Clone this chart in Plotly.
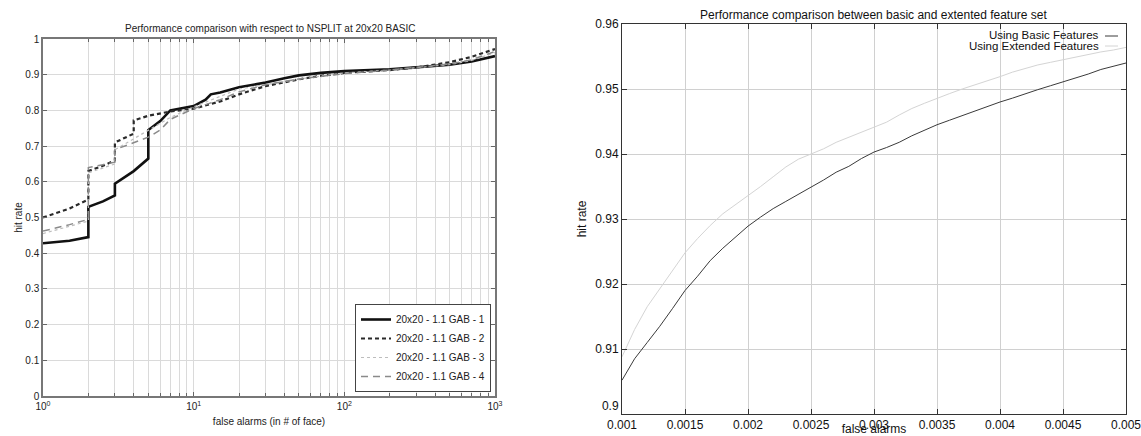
import plotly.graph_objects as go

# ---------------- Left chart data (false alarms in # of faces, log axis) ----------------
left_names = ["20x20 - 1.1 GAB - 1", "20x20 - 1.1 GAB - 2", "20x20 - 1.1 GAB - 3", "20x20 - 1.1 GAB - 4"]

gab1_x = [1, 1.5, 2, 2, 2.5, 3, 3, 4, 5, 5, 6, 7, 10, 12, 13, 15, 20, 30, 40, 50, 70, 100, 200, 300, 500, 700, 1000]
gab1_y = [0.428, 0.435, 0.445, 0.53, 0.545, 0.562, 0.595, 0.63, 0.665, 0.745, 0.77, 0.80, 0.812, 0.83, 0.845, 0.85,
          0.865, 0.878, 0.89, 0.898, 0.905, 0.91, 0.915, 0.92, 0.928, 0.937, 0.952]

gab2_x = [1, 1.5, 2, 2, 2.5, 3, 3, 4, 4, 5, 7, 10, 15, 20, 30, 50, 70, 100, 200, 300, 500, 700, 1000]
gab2_y = [0.50, 0.525, 0.55, 0.63, 0.645, 0.66, 0.71, 0.735, 0.772, 0.785, 0.797, 0.805, 0.825, 0.845, 0.868,
          0.887, 0.897, 0.905, 0.913, 0.92, 0.935, 0.95, 0.972]

gab3_x = [1, 2, 2, 3, 3, 4, 5, 7, 10, 20, 30, 50, 100, 200, 500, 700, 1000]
gab3_y = [0.455, 0.49, 0.625, 0.65, 0.69, 0.72, 0.745, 0.78, 0.81, 0.86, 0.872, 0.888, 0.905, 0.913, 0.928,
          0.94, 0.962]

gab4_x = [1, 1.5, 2, 2, 2.5, 3, 3, 4, 5, 6, 7, 10, 15, 20, 30, 50, 100, 200, 500, 700, 1000]
gab4_y = [0.462, 0.48, 0.495, 0.64, 0.648, 0.655, 0.69, 0.71, 0.725, 0.745, 0.775, 0.805, 0.83, 0.852, 0.872,
          0.888, 0.903, 0.913, 0.93, 0.942, 0.965]

left_xticks = [1, 10, 100, 1000]
left_xticktext = ["10<sup>0</sup>", "10<sup>1</sup>", "10<sup>2</sup>", "10<sup>3</sup>"]
left_minor = [2, 3, 4, 5, 6, 7, 8, 9, 20, 30, 40, 50, 60, 70, 80, 90, 200, 300, 400, 500, 600, 700, 800, 900]
left_yticks = [0, 0.1, 0.2, 0.3, 0.4, 0.5, 0.6, 0.7, 0.8, 0.9, 1]

# ---------------- Right chart data (false alarm rate) ----------------
right_names = ["Using Basic Features", "Using Extended Features"]
fa_rate = [0.0010, 0.0011, 0.0012, 0.0013, 0.0014, 0.0015, 0.0016, 0.0017, 0.0018, 0.0019,
           0.0020, 0.0021, 0.0022, 0.0023, 0.0024, 0.0025, 0.0026, 0.0027, 0.0028, 0.0029,
           0.0030, 0.0031, 0.0032, 0.0033, 0.0034, 0.0035, 0.0036, 0.0037, 0.0038, 0.0039,
           0.0040, 0.0041, 0.0042, 0.0043, 0.0044, 0.0045, 0.0046, 0.0047, 0.0048, 0.0049, 0.0050]
basic_hr = [0.9052, 0.9085, 0.9110, 0.9135, 0.9162, 0.9190, 0.9212, 0.9236, 0.9255, 0.9272,
            0.9289, 0.9303, 0.9316, 0.9327, 0.9338, 0.9348, 0.9360, 0.9372, 0.9381, 0.9393,
            0.9403, 0.9410, 0.9418, 0.9428, 0.9437, 0.9445, 0.9452, 0.9459, 0.9467, 0.9473,
            0.9480, 0.9486, 0.9493, 0.9499, 0.9505, 0.9511, 0.9516, 0.9523, 0.9530, 0.9535, 0.9540]
extended_hr = [0.9088, 0.9130, 0.9165, 0.9193, 0.9222, 0.9248, 0.9270, 0.9290, 0.9308, 0.9322,
               0.9335, 0.9350, 0.9365, 0.9380, 0.9392, 0.9400, 0.9408, 0.9418, 0.9426, 0.9434,
               0.9441, 0.9449, 0.9460, 0.9470, 0.9478, 0.9486, 0.9493, 0.9500, 0.9506, 0.9512,
               0.9519, 0.9526, 0.9532, 0.9537, 0.9541, 0.9545, 0.9550, 0.9554, 0.9557, 0.9560, 0.9564]
right_xticks = [0.001, 0.0015, 0.002, 0.0025, 0.003, 0.0035, 0.004, 0.0045, 0.005]
right_xticktext = ["0.001", "0.0015", "0.002", "0.0025", "0.003", "0.0035", "0.004", "0.0045", "0.005"]
right_yticks = [0.9, 0.91, 0.92, 0.93, 0.94, 0.95, 0.96]
right_yticktext = ["0.9<br> ", "0.91", "0.92", "0.93", "0.94", "0.95", "0.96"]

W, H = 1141, 436
FONT = "Liberation Sans, Arial, sans-serif"

fig = go.Figure()

left_styles = [
    dict(color="#111111", width=2.6, dash="solid"),
    dict(color="#2a2a2a", width=2.2, dash="4px,3px"),
    dict(color="#bdbdbd", width=1.2, dash="dot"),
    dict(color="#8a8a8a", width=1.5, dash="7px,5px"),
]
for name, xs, ys, st in zip(left_names, [gab1_x, gab2_x, gab3_x, gab4_x],
                            [gab1_y, gab2_y, gab3_y, gab4_y], left_styles):
    fig.add_trace(go.Scatter(x=xs, y=ys, mode="lines", name=name, line=st,
                             xaxis="x", yaxis="y", legend="legend"))

fig.add_trace(go.Scatter(x=fa_rate, y=basic_hr, mode="lines", name=right_names[0],
                         line=dict(color="#3a3a3a", width=1), xaxis="x2", yaxis="y2", showlegend=False))
fig.add_trace(go.Scatter(x=fa_rate, y=extended_hr, mode="lines", name=right_names[1],
                         line=dict(color="#d4d4d4", width=1), xaxis="x2", yaxis="y2", showlegend=False))


def px_x(p):
    return p / W


def px_y(p):
    return 1 - p / H


grid_l = "#dadada"
fig.update_layout(
    template="none",
    width=W, height=H,
    margin=dict(l=0, r=0, t=0, b=0, autoexpand=False),
    paper_bgcolor="white", plot_bgcolor="white",
    font=dict(family=FONT, color="#222222"),
    xaxis=dict(domain=[px_x(43), px_x(495)], anchor="y", type="log", range=[0, 3], automargin=False,
               tickmode="array", tickvals=left_xticks, ticktext=left_xticktext,
               tickfont=dict(size=10), showgrid=True, gridcolor=grid_l, gridwidth=1,
               minor=dict(tickmode="array", tickvals=left_minor, showgrid=True, gridcolor=grid_l,
                          ticks="inside", ticklen=3, tickcolor="#666"),
               ticks="inside", ticklen=4, tickcolor="#666", showline=True, linecolor="#777", linewidth=1.5,
               mirror="allticks", zeroline=False,
               title=dict(text="false alarms (in # of face)", font=dict(size=10), standoff=7)),
    yaxis=dict(domain=[px_y(396), px_y(39)], anchor="x", range=[0, 1], automargin=False,
               tickmode="array", tickvals=left_yticks, tickfont=dict(size=10),
               showgrid=True, gridcolor=grid_l, ticks="inside", ticklen=4, tickcolor="#666",
               showline=True, linecolor="#777", linewidth=1.5, mirror="allticks", zeroline=False,
               title=dict(text="hit rate", font=dict(size=10), standoff=1)),
    xaxis2=dict(domain=[px_x(622), px_x(1126)], anchor="y2", range=[0.001, 0.005], automargin=False,
                tickmode="array", tickvals=right_xticks, ticktext=right_xticktext,
                tickfont=dict(size=12, color="#111"), showgrid=True, gridcolor="#d0d0d0",
                ticklabeloverflow="allow",
                ticks="inside", ticklen=5, tickcolor="#333", showline=True, linecolor="#333", linewidth=1,
                mirror="allticks", zeroline=False,
                title=dict(text="false alarms", font=dict(size=12, color="#111"), standoff=5)),
    yaxis2=dict(domain=[px_y(414), px_y(24)], anchor="x2", range=[0.9, 0.96], automargin=False,
                tickmode="array", tickvals=right_yticks, ticktext=right_yticktext,
                tickfont=dict(size=12, color="#111"),
                showgrid=True, gridcolor="#d0d0d0", ticks="inside", ticklen=5, tickcolor="#333",
                showline=True, linecolor="#333", linewidth=1, mirror="allticks", zeroline=False,
                title=dict(text="hit rate", font=dict(size=12, color="#111"), standoff=6)),
    legend=dict(x=px_x(491), y=px_y(392), xanchor="right", yanchor="bottom",
                bgcolor="white", bordercolor="#444", borderwidth=1,
                font=dict(size=10, color="#222"), tracegroupgap=0, itemwidth=30,
                itemsizing="trace"),
    showlegend=True,
)

annotations = [
    dict(text="Performance comparison with respect to NSPLIT at 20x20 BASIC", x=px_x(270), y=px_y(28),
         xref="paper", yref="paper", showarrow=False, font=dict(size=10, color="#222"), xanchor="center",
         yanchor="middle"),
    dict(text="Performance comparison between basic and extented feature set", x=px_x(874), y=px_y(15),
         xref="paper", yref="paper", showarrow=False, font=dict(size=12, color="#111"), xanchor="center",
         yanchor="middle"),
    dict(text=right_names[0], x=px_x(1101), y=px_y(35), xref="paper", yref="paper", showarrow=False,
         font=dict(size=11.5, color="#111"), xanchor="right", yanchor="middle"),
    dict(text=right_names[1], x=px_x(1101), y=px_y(46), xref="paper", yref="paper", showarrow=False,
         font=dict(size=11.5, color="#111"), xanchor="right", yanchor="middle"),
]
fig.update_layout(annotations=annotations)
fig.add_shape(type="line", xref="paper", yref="paper", x0=px_x(1105), x1=px_x(1118), y0=px_y(36), y1=px_y(36),
              line=dict(color="#3a3a3a", width=1))
fig.add_shape(type="line", xref="paper", yref="paper", x0=px_x(1105), x1=px_x(1118), y0=px_y(46), y1=px_y(46),
              line=dict(color="#d4d4d4", width=1))

fig.write_html(
    "out.html",
    config={"displayModeBar": False},
    post_script="document.body.style.margin='0';document.body.style.overflow='hidden';",
)
